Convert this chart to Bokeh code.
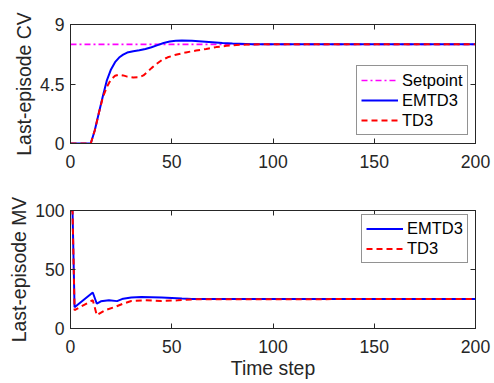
from bokeh.plotting import figure
from bokeh.layouts import column
from bokeh.models import Range1d, LinearAxis, Legend, LegendItem, FixedTicker
from bokeh.embed import file_html
from bokeh.resources import INLINE

# ---------------- data ----------------
x_ticks = [0, 50, 100, 150, 200]
cv_ticks = [0, 4.5, 9]
mv_ticks = [0, 50, 100]

setpoint_t = [0, 200]
setpoint_cv = [7.5, 7.5]

cv_emtd3_t = [0, 10, 12, 14, 16, 18, 20, 22, 24, 26, 28, 31, 34, 37, 40, 43, 46, 49,
              52, 55, 60, 65, 70, 75, 80, 90, 100, 200]
cv_emtd3 = [0, 0, 1.0, 2.3, 3.6, 4.8, 5.6, 6.15, 6.5, 6.72, 6.88, 6.98, 7.05, 7.15, 7.28,
            7.44, 7.6, 7.71, 7.77, 7.79, 7.77, 7.72, 7.66, 7.6, 7.56, 7.51, 7.5, 7.5]

cv_td3_t = [0, 10, 12, 14, 16, 18, 20, 22, 24, 26, 28, 31, 34, 36, 38, 40, 42, 45, 48,
            52, 57, 62, 67, 72, 77, 82, 88, 95, 200]
cv_td3 = [0, 0, 1.0, 2.3, 3.5, 4.3, 4.85, 5.12, 5.2, 5.15, 5.06, 5.0, 5.02, 5.15, 5.42,
          5.7, 5.96, 6.3, 6.52, 6.71, 6.89, 7.03, 7.15, 7.29, 7.39, 7.45, 7.49, 7.5, 7.5]

mv_emtd3_t = [0, 1, 2, 11, 13, 15, 19, 23, 26, 30, 35, 40, 45, 50, 55, 60, 200]
mv_emtd3 = [100, 100, 18, 30.5, 21, 23, 24, 23.2, 25.3, 26.2, 26.6, 26.5, 26.2, 25.8,
            25.4, 25.1, 25]

mv_td3_t = [0, 1, 2, 11, 13, 17, 22, 26, 30, 37, 45, 53, 62, 200]
mv_td3 = [100, 100, 15.5, 24, 11.3, 15.5, 18.3, 21.1, 23.3, 23.9, 23.3, 23.9, 24.8, 25]

# ---------------- style ----------------
FONT = "Liberation Sans"
AX = "#262626"
TICK_FS = "17.6px"
LABEL_FS = "19.4px"
LEG_FS = "16.5px"
W = 494


def style_axis(ax, ticks, labels=True):
    ax.ticker = FixedTicker(ticks=ticks)
    ax.major_tick_in = 5
    ax.major_tick_out = 0
    ax.minor_tick_line_color = None
    ax.axis_line_color = AX
    ax.major_tick_line_color = AX
    ax.major_label_text_font = FONT
    ax.major_label_text_color = AX
    if labels:
        ax.major_label_text_font_size = TICK_FS
        ax.major_label_overrides = {t: f"{t:g}" for t in ticks}
    else:
        ax.major_label_text_font_size = "1px"
        ax.major_label_text_alpha = 0
        ax.major_label_standoff = 0


def make_fig(height, top, frame_h, y_range, y_ticks, ylabel, xlabel=None):
    p = figure(width=W, height=height, output_backend="svg", toolbar_location=None,
               x_range=Range1d(0, 200), y_range=Range1d(*y_range),
               min_border_left=70, min_border_right=19, min_border_top=top,
               min_border_bottom=height - top - frame_h)
    p.grid.visible = False
    p.outline_line_color = AX
    p.outline_line_width = 1
    p.background_fill_color = "white"
    p.border_fill_color = "white"
    style_axis(p.xaxis[0], x_ticks)
    style_axis(p.yaxis[0], y_ticks)
    p.xaxis[0].major_label_standoff = 11
    p.yaxis[0].major_label_standoff = 6
    p.yaxis[0].axis_label = ylabel
    p.yaxis[0].axis_label_text_font = FONT
    p.yaxis[0].axis_label_text_font_size = LABEL_FS
    p.yaxis[0].axis_label_text_font_style = "normal"
    p.yaxis[0].axis_label_text_color = AX
    p.yaxis[0].axis_label_standoff = 2
    if xlabel:
        p.xaxis[0].axis_label = xlabel
        p.xaxis[0].axis_label_text_font = FONT
        p.xaxis[0].axis_label_text_font_size = LABEL_FS
        p.xaxis[0].axis_label_text_font_style = "normal"
        p.xaxis[0].axis_label_text_color = AX
        p.xaxis[0].axis_label_standoff = 1
    top_ax = LinearAxis()
    style_axis(top_ax, x_ticks, labels=False)
    p.add_layout(top_ax, "above")
    right_ax = LinearAxis()
    style_axis(right_ax, y_ticks, labels=False)
    p.add_layout(right_ax, "right")
    return p


def style_legend(leg, loc, gh, spacing):
    leg.location = loc
    leg.margin = 0
    leg.padding = 4
    leg.spacing = spacing
    leg.glyph_width = 37
    leg.glyph_height = gh
    leg.label_height = gh
    leg.label_standoff = 4
    leg.label_text_font = FONT
    leg.label_text_font_size = LEG_FS
    leg.label_text_color = "black"
    leg.border_line_color = AX
    leg.border_line_width = 1
    leg.background_fill_alpha = 1


# ---------------- top: CV ----------------
p1 = make_fig(190, 24, 119, (0, 9), cv_ticks, "Last-episode CV")
r_sp = p1.line(setpoint_t, setpoint_cv, line_color="#FF00FF", line_width=1.6,
               line_dash="6 3 2 3")
r_e1 = p1.line(cv_emtd3_t, cv_emtd3, line_color="#0000FF", line_width=2)
r_t1 = p1.line(cv_td3_t, cv_td3, line_color="#FF0000", line_width=2, line_dash="6 4")
leg1 = Legend(items=[LegendItem(label="Setpoint", renderers=[r_sp]),
                     LegendItem(label="EMTD3", renderers=[r_e1]),
                     LegendItem(label="TD3", renderers=[r_t1])])
style_legend(leg1, (286, 8), 20, 0)
p1.add_layout(leg1, "center")

# ---------------- bottom: MV ----------------
p2 = make_fig(193, 20, 118, (0, 100), mv_ticks, "Last-episode MV", "Time step")
r_e2 = p2.line(mv_emtd3_t, mv_emtd3, line_color="#0000FF", line_width=2)
r_t2 = p2.line(mv_td3_t, mv_td3, line_color="#FF0000", line_width=2, line_dash="6 4")
leg2 = Legend(items=[LegendItem(label="EMTD3", renderers=[r_e2]),
                     LegendItem(label="TD3", renderers=[r_t2])])
style_legend(leg2, (291, 65), 19, 1)
p2.add_layout(leg2, "center")

layout = column(p1, p2, spacing=0)
open("out.html", "w").write(file_html(layout, INLINE))
